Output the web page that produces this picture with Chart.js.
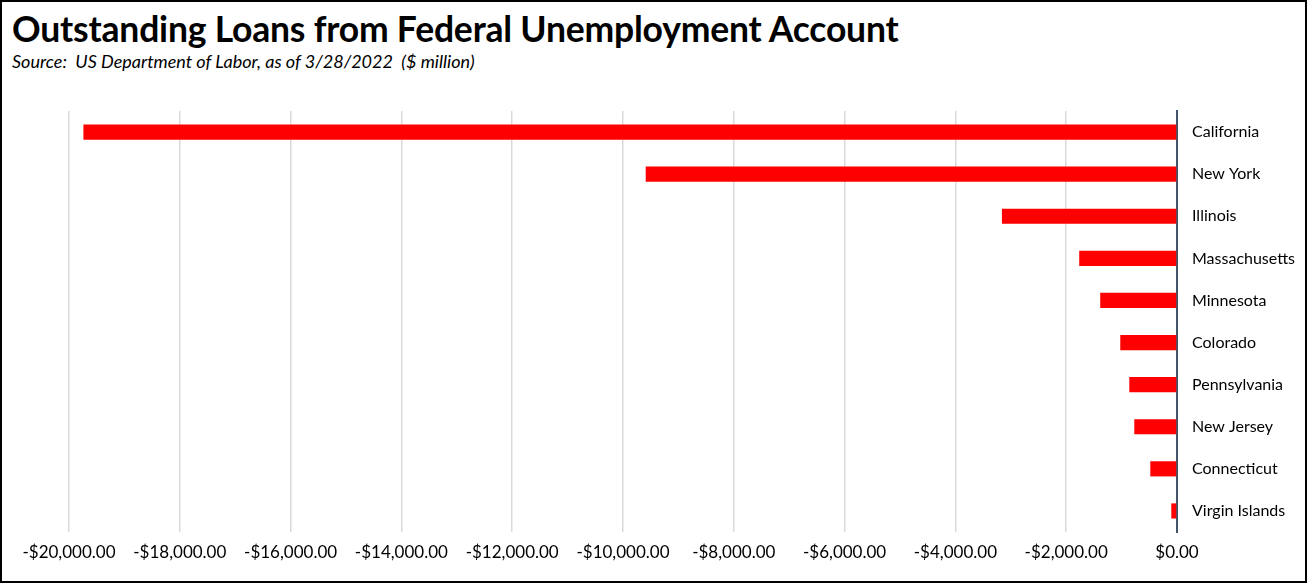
<!DOCTYPE html>
<html>
<head>
<meta charset="utf-8">
<script src="https://cdn.jsdelivr.net/npm/chart.js@4.4.1/dist/chart.umd.min.js"></script>
<style>
  html, body { margin: 0; padding: 0; background: #fff; }
  #frame { position: absolute; left: 0; top: 0; width: 1307px; height: 583px; box-sizing: border-box; border: 2px solid #000; }
  #title { position: absolute; left: 12px; top: 7px; font-family: Lato, "Liberation Sans", sans-serif; font-weight: bold; font-size: 35.5px; color: #000; white-space: nowrap; letter-spacing: -0.2px; }
  #subtitle { position: absolute; left: 12px; top: 50px; font-family: Lato, "Liberation Sans", sans-serif; font-style: italic; font-size: 18px; color: #000; white-space: pre; }
  #wrap { position: absolute; left: 0; top: 0; width: 1307px; height: 583px; }
</style>
</head>
<body>
<div id="frame"></div>
<div id="title">Outstanding Loans from Federal Unemployment Account</div>
<div id="subtitle">Source:  US Department of Labor, as of 3/28/2022  ($ million)</div>
<div id="wrap"><canvas id="c" width="1307" height="583"></canvas></div>
<script>
const categories = ["California", "New York", "Illinois", "Massachusetts", "Minnesota", "Colorado", "Pennsylvania", "New Jersey", "Connecticut", "Virgin Islands"];
const loans = [-19740, -9590, -3160, -1765, -1386, -1024, -861, -771, -482, -103];
const xMin = -20000, xMax = 0, xStep = 2000;

function fmt(v) {
  const s = Math.abs(v).toLocaleString('en-US', { minimumFractionDigits: 2, maximumFractionDigits: 2 });
  return (v < 0 ? '-$' : '$') + s;
}

new Chart(document.getElementById('c'), {
  type: 'bar',
  data: {
    labels: categories,
    datasets: [{
      data: loans,
      backgroundColor: '#FF0000',
      borderWidth: 0,
      categoryPercentage: 1,
      barPercentage: 0.36
    }]
  },
  options: {
    indexAxis: 'y',
    responsive: false,
    animation: false,
    layout: { padding: { left: 69, top: 111, right: 0, bottom: 0 } },
    plugins: { legend: { display: false }, tooltip: { enabled: false } },
    scales: {
      x: {
        min: xMin, max: xMax,
        ticks: {
          stepSize: xStep,
          callback: (v) => fmt(v),
          color: '#000',
          font: { family: 'Lato', size: 17 },
          padding: 10,
          maxRotation: 0,
          autoSkip: false
        },
        grid: { color: '#D9D9D9', lineWidth: 1.5, drawTicks: false },
        border: { display: false },
        afterFit: (s) => { s.height = 51; }
      },
      y: {
        position: 'right',
        ticks: {
          color: '#000',
          font: { family: 'Lato', size: 16 },
          padding: 15,
          crossAlign: 'near'
        },
        grid: { display: false, drawTicks: false },
        border: { display: true, color: '#44546A', width: 2 },
        afterFit: (s) => { s.width = 130; }
      }
    }
  }
});
</script>
</body>
</html>
